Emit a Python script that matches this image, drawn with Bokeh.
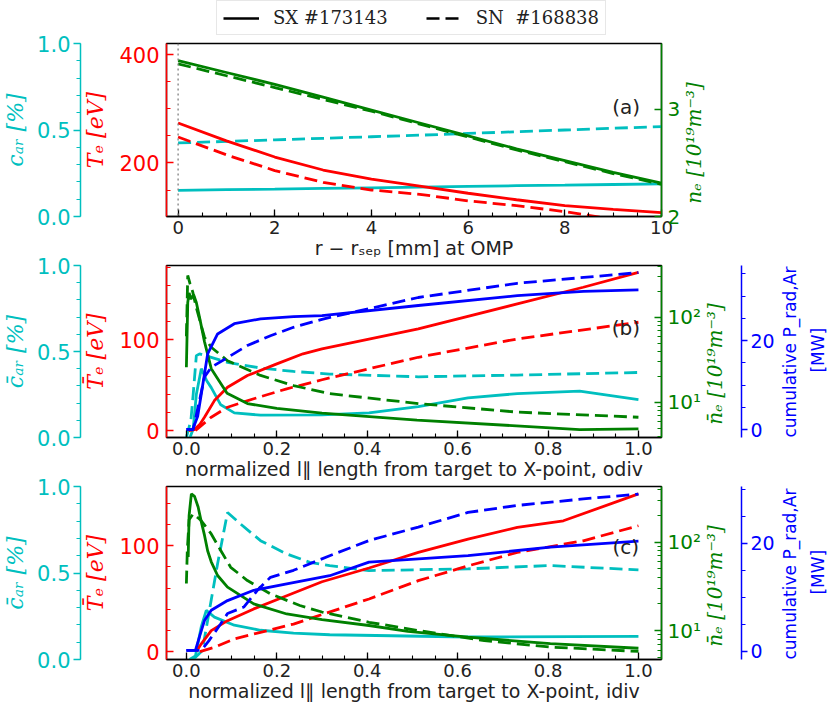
import math
from bokeh.plotting import figure
from bokeh.models import (Range1d, LinearAxis, LogAxis, LogScale, FixedTicker,
                          Legend, LegendItem, Label, Span, NumeralTickFormatter)
from bokeh.layouts import column
from bokeh.embed import file_html
from bokeh.resources import INLINE

CYAN = "#00bfbf"; RED = "#ff0000"; GREEN = "#008000"; BLUE = "#0000ff"
LW = 2.8
DASH = "13 6"
YTICK = "21px"; YLAB = "22px"; XTICK = "18px"; XLAB = "19px"
NAN = float("nan")
W = 840
FS = "\u2007"   # figure space, used to pad the start of a vertical label

# ---------------- data: panel (a), outer midplane ----------------
a_r = [0, 1, 2, 3, 4, 5, 6, 7, 8, 9, 10]
a_te_sx = [274, 241, 211, 187, 170, 157, 144, 132, 121, 114, 108]
a_te_sn = [248, 215, 186, 164, 150, 142, 130, 121, 110, 96, 88]
a_ne_sx = [3.45, 3.34, 3.23, 3.11, 2.99, 2.87, 2.75, 2.63, 2.52, 2.41, 2.31]
a_ne_sn = [3.42, 3.31, 3.20, 3.09, 2.98, 2.86, 2.74, 2.62, 2.51, 2.40, 2.30]
a_car_sx = [0.151, 0.155, 0.158, 0.162, 0.166, 0.170, 0.174, 0.178, 0.181, 0.185, 0.189]
a_car_sn = [0.425, 0.434, 0.443, 0.452, 0.461, 0.470, 0.480, 0.490, 0.500, 0.510, 0.520]

# ---------------- data: panel (b), outer divertor ----------------
b_ne_sx_x = [0.0, 0.003, 0.006, 0.010, 0.016, 0.022, 0.03, 0.04, 0.055, 0.09, 0.135, 0.2, 0.3, 0.51, 0.73, 0.87, 1.0]
b_ne_sx = [26, 150, 195, 165, 185, 150, 95, 52, 25, 12.8, 9.7, 8.5, 7.5, 6.2, 5.3, 4.8, 4.9]
b_ne_sn_x = [0.0, 0.003, 0.008, 0.014, 0.022, 0.04, 0.055, 0.091, 0.164, 0.237, 0.317, 0.513, 0.732, 1.0]
b_ne_sn = [60, 312, 250, 200, 130, 58.6, 44.6, 31, 20.8, 15.8, 12.7, 9.7, 7.7, 6.7]
b_pr_sx_x = [0.0, 0.014, 0.025, 0.033, 0.047, 0.069, 0.106, 0.164, 0.237, 0.3, 0.513, 0.732, 0.878, 1.0]
b_pr_sx = [0, 0, 3, 8, 17, 21.5, 23.8, 24.9, 25.4, 25.6, 27.9, 30.1, 31.1, 31.4]
b_pr_sn_x = [0.0, 0.015, 0.029, 0.04, 0.055, 0.091, 0.135, 0.186, 0.237, 0.3, 0.513, 0.732, 1.0]
b_pr_sn = [0, 0, 6.5, 11.8, 14.0, 16.2, 18.9, 21.1, 23.0, 24.8, 29.7, 32.9, 35.3]
b_te_sx_x = [0.005, 0.018, 0.03, 0.04, 0.062, 0.091, 0.135, 0.2, 0.258, 0.3, 0.513, 0.732, 0.878, 1.0]
b_te_sx = [0, 1, 7, 14.7, 33, 47.7, 60.6, 73.5, 84.6, 90, 112, 139.7, 158, 174.5]
b_te_sn_x = [0.02, 0.025, 0.055, 0.091, 0.149, 0.222, 0.3, 0.513, 0.732, 1.0]
b_te_sn = [0, 2, 14.7, 25.7, 35, 46, 56, 80.8, 101, 119.4]
b_car_sx_x = [0.008, 0.015, 0.022, 0.033, 0.045, 0.055, 0.076, 0.106, 0.164, 0.3, 0.404, 0.513, 0.623, 0.732, 0.87, 1.0]
b_car_sx = [0, 0.05, 0.25, 0.40, 0.33, 0.29, 0.19, 0.143, 0.13, 0.132, 0.143, 0.18, 0.23, 0.255, 0.27, 0.22]
b_car_sn_x = [0.0, 0.01, 0.015, 0.022, 0.029, 0.055, 0.091, 0.164, 0.237, 0.317, 0.513, 0.732, 1.0]
b_car_sn = [0, 0.1, 0.25, 0.476, 0.486, 0.466, 0.437, 0.404, 0.384, 0.369, 0.353, 0.363, 0.378]

# ---------------- data: panel (c), inner divertor ----------------
c_ne_sx_x = [0.004, 0.006, 0.011, 0.018, 0.026, 0.033, 0.04, 0.047, 0.055, 0.069, 0.091, 0.149, 0.222, 0.3, 0.404, 0.49, 0.623, 0.805, 1.0]
c_ne_sx = [68, 200, 353, 330, 250, 170, 120, 80, 60, 42, 31, 20, 15.4, 13.3, 11.4, 9.8, 8.4, 7.1, 6.3]
c_ne_sn_x = [0.0, 0.002, 0.006, 0.015, 0.025, 0.033, 0.055, 0.076, 0.098, 0.135, 0.186, 0.251, 0.3, 0.404, 0.513, 0.659, 0.805, 1.0]
c_ne_sn = [34, 80, 180, 209, 190, 175, 124, 80.6, 52, 36.8, 26, 19.2, 16.2, 12.4, 10, 7.7, 6.5, 5.8]
c_pr_sx_x = [0.0, 0.02, 0.03, 0.04, 0.055, 0.091, 0.149, 0.222, 0.317, 0.404, 0.623, 0.805, 1.0]
c_pr_sx = [0.2, 0.2, 3, 5.7, 7.6, 9.4, 11.3, 12.5, 14.0, 16.5, 17.7, 19.3, 20.4]
c_pr_sn_x = [0.0, 0.033, 0.05, 0.076, 0.091, 0.127, 0.157, 0.186, 0.237, 0.317, 0.404, 0.513, 0.623, 0.732, 0.878, 1.0]
c_pr_sn = [0.2, 0.2, 2, 5.1, 7, 8.2, 11.3, 13.7, 15.0, 17.7, 20.5, 23, 25.7, 27, 28.2, 29.1]
c_te_sx_x = [0.022, 0.033, 0.055, 0.091, 0.149, 0.222, 0.3, 0.404, 0.513, 0.623, 0.732, 0.834, 1.0]
c_te_sx = [0, 7.3, 19.8, 29.2, 40.3, 52.8, 66, 79, 93.7, 106.3, 117.3, 123.6, 149]
c_te_sn_x = [0.03, 0.062, 0.106, 0.164, 0.237, 0.3, 0.404, 0.513, 0.623, 0.732, 0.878, 1.0]
c_te_sn = [0, 4, 12, 18.2, 26, 35, 49.7, 67, 81, 93.7, 104.7, 118.9]
c_car_sx_x = [0.007, 0.02, 0.033, 0.044, 0.062, 0.106, 0.164, 0.237, 0.317, 0.623, 1.0]
c_car_sx = [0, 0.02, 0.19, 0.284, 0.245, 0.198, 0.169, 0.153, 0.143, 0.13, 0.134]
c_car_sn_x = [0.015, 0.035, 0.047, 0.069, 0.091, 0.12, 0.164, 0.222, 0.273, 0.317, 0.404, 0.623, 0.805, 1.0]
c_car_sn = [0, 0.05, 0.226, 0.553, 0.85, 0.783, 0.687, 0.61, 0.562, 0.543, 0.514, 0.524, 0.543, 0.518]

# ---------------- tick labels / texts ----------------
x_ticks_a = [0, 2, 4, 6, 8, 10]
x_ticks_bc = [0.0, 0.2, 0.4, 0.6, 0.8, 1.0]
cyan_ticks = [0.0, 0.5, 1.0]
log_ticks = [10, 100]
log_labels = {10: "10¹", 100: "10²"}
legend_labels = ["SX #173143", "SN\u00a0 #168838"]
blue_label_1 = "cumulative P_rad,Ar"
blue_label_2 = FS * 6 + "[MW]"


def style_axis(ax, color, inward, tick_font=YTICK, label_font=YLAB,
               label_style="italic", label_family="DejaVu Serif", tick_len=7):
    ax.axis_line_color = color
    ax.axis_line_width = 1.5
    ax.major_tick_line_color = color
    ax.minor_tick_line_color = color
    ax.major_tick_line_width = 1.3
    ax.minor_tick_line_width = 1.1
    if inward:
        ax.major_tick_in, ax.major_tick_out = tick_len, 0
        ax.minor_tick_in, ax.minor_tick_out = 4, 0
    else:
        ax.major_tick_in, ax.major_tick_out = 0, tick_len
        ax.minor_tick_in, ax.minor_tick_out = 0, 4
    ax.major_label_text_color = color
    ax.major_label_text_font = "DejaVu Sans"
    ax.major_label_text_font_size = tick_font
    ax.axis_label_text_color = color
    ax.axis_label_text_font = label_family
    ax.axis_label_text_font_style = label_style
    ax.axis_label_text_font_size = label_font


def flip(ax):
    # read bottom-to-top like the reference, starting from the bottom of the frame
    ax.axis_label_orientation = math.pi / 2
    ax.axis_label_align = "start"


def base_fig(height, top, bottom, xr, redr, shift):
    p = figure(width=W, height=height, x_range=Range1d(*xr), y_range=Range1d(*redr),
               output_backend="svg", toolbar_location=None,
               min_border_left=165, min_border_right=174,
               min_border_top=top, min_border_bottom=bottom)
    p.xgrid.visible = False
    p.ygrid.visible = False
    p.outline_line_color = "black"
    p.outline_line_width = 1.5
    p.border_fill_color = None
    p.margin = (shift, 0, 0, 0)
    return p


def setup_axes(p, xticks, xminor, xfmt, xlabel, redticks, redminor, redlabel,
               cyanlabel, green_log, greenticks, greenminor, greenlabel,
               blueticks=None, blueminor=None):
    xa = p.xaxis[0]
    style_axis(xa, "black", True, tick_font=XTICK, label_font=XLAB,
               label_style="normal", label_family="DejaVu Sans")
    xa.ticker = FixedTicker(ticks=xticks, minor_ticks=xminor)
    if xfmt:
        xa.formatter = NumeralTickFormatter(format=xfmt)
    xa.major_label_text_color = "#222222"
    xa.axis_label_text_color = "#222222"
    xa.axis_label = xlabel
    xa.major_label_standoff = 4
    xa.axis_label_standoff = 0

    ra = p.yaxis[0]
    style_axis(ra, RED, True)
    ra.ticker = FixedTicker(ticks=redticks, minor_ticks=redminor)
    ra.axis_label = redlabel
    ra.major_label_standoff = 7
    ra.axis_label_standoff = 8

    ca = LinearAxis(y_range_name="cyan", axis_label=cyanlabel,
                    ticker=FixedTicker(ticks=cyan_ticks, minor_ticks=[i / 10 for i in range(11)]),
                    formatter=NumeralTickFormatter(format="0.0"))
    style_axis(ca, CYAN, False)
    ca.major_label_standoff = 3
    ca.axis_label_standoff = 6
    p.add_layout(ca, "left")

    if green_log:
        ga = LogAxis(y_range_name="green", ticker=FixedTicker(ticks=greenticks, minor_ticks=greenminor))
        ga.major_label_overrides = log_labels
    else:
        ga = LinearAxis(y_range_name="green", ticker=FixedTicker(ticks=greenticks, minor_ticks=greenminor))
    style_axis(ga, GREEN, True, tick_font="20px", label_font="20px")
    ga.axis_label = greenlabel
    ga.major_label_standoff = 6
    ga.axis_label_standoff = 11
    flip(ga)
    p.add_layout(ga, "right")

    if blueticks is not None:
        ba = LinearAxis(y_range_name="blue", axis_label=blue_label_1,
                        ticker=FixedTicker(ticks=blueticks, minor_ticks=blueminor))
        style_axis(ba, BLUE, False, tick_font="19px", label_font="17px",
                   label_style="normal", label_family="DejaVu Sans", tick_len=6)
        ba.major_label_standoff = 3
        ba.axis_label_standoff = 12
        flip(ba)
        p.add_layout(ba, "right")
        # second line of the blue label ("[MW]") carried by a bare axis
        da = LinearAxis(y_range_name="blue", axis_label=blue_label_2,
                        ticker=FixedTicker(ticks=[], minor_ticks=[]))
        style_axis(da, BLUE, False, tick_font="19px", label_font="17px",
                   label_style="normal", label_family="DejaVu Sans")
        da.axis_line_color = None
        da.major_tick_out = 0
        da.minor_tick_out = 0
        da.major_label_standoff = 0
        da.axis_label_standoff = 5
        flip(da)
        p.add_layout(da, "right")


def panel_label(p, x, y, text):
    p.add_layout(Label(x=x, y=y, text=text, text_align="center", text_baseline="middle",
                       text_font="DejaVu Sans", text_font_size="20px", text_color="#222222"))


# ---------------- legend strip ----------------
pl = figure(width=W, height=43, x_range=Range1d(0, 1), y_range=Range1d(0, 1),
            x_axis_type=None, y_axis_type=None, output_backend="svg",
            toolbar_location=None, min_border=0)
pl.xgrid.visible = False
pl.ygrid.visible = False
pl.outline_line_color = None
pl.border_fill_color = None
pl.background_fill_color = None
r_sx = pl.line(x=[NAN], y=[NAN], line_color="black", line_width=2.5)
r_sn = pl.line(x=[NAN], y=[NAN], line_color="black", line_width=2.5, line_dash=DASH)
leg = Legend(items=[LegendItem(label=legend_labels[0], renderers=[r_sx]),
                    LegendItem(label=legend_labels[1], renderers=[r_sn])],
             orientation="horizontal", location=(50, 8),
             label_text_font="DejaVu Serif", label_text_font_size="18px",
             label_text_color="#222222",
             glyph_width=36, glyph_height=20, label_standoff=14, spacing=38,
             padding=6, margin=0, border_line_color="#d0d0d0", border_line_width=1.5)
pl.add_layout(leg, "center")

# ---------------- panel (a) ----------------
XA = (-0.24, 10); RA = (101, 421)
pa = base_fig(234, 14, 47, XA, RA, -14)
pa.extra_y_ranges = {"cyan": Range1d(0, 1), "green": Range1d(2, 3.61)}
setup_axes(pa, x_ticks_a, [i * 0.5 for i in range(21)], None, "r − rₛₑₚ [mm] at OMP",
           [200, 400], [100 + 50 * i for i in range(7)], "Tₑ [eV]",
           "cₐᵣ [%]", False, [2, 3], [2, 3], FS + "nₑ [10¹⁹m⁻³]")
pa.add_layout(Span(location=0, dimension="height", line_color="gray",
                   line_dash="2 3", line_width=1.3))
pa.line(a_r, a_car_sx, color=CYAN, line_width=LW, y_range_name="cyan")
pa.line(a_r, a_car_sn, color=CYAN, line_width=LW, line_dash=DASH, y_range_name="cyan")
pa.line(a_r, a_te_sx, color=RED, line_width=LW)
pa.line(a_r, a_te_sn, color=RED, line_width=LW, line_dash=DASH)
pa.line(a_r, a_ne_sx, color=GREEN, line_width=LW, y_range_name="green")
pa.line(a_r, a_ne_sn, color=GREEN, line_width=LW, line_dash=DASH, y_range_name="green")
panel_label(pa, 9.27, 304, "(a)")

minor_x_bc = [i * 0.05 for i in range(21)]
log_minor = [4, 5, 6, 7, 8, 9, 20, 30, 40, 50, 60, 70, 80, 90, 200, 300, 400]

# ---------------- panel (b) ----------------
XB = (-0.044, 1.051); RB = (-7.7, 182)
pb = base_fig(233, 14, 47, XB, RB, -12)
pb.extra_y_ranges = {"cyan": Range1d(0, 1), "green": Range1d(3.87, 409), "blue": Range1d(-1.8, 36.9)}
pb.extra_y_scales = {"green": LogScale()}
setup_axes(pb, x_ticks_bc, minor_x_bc, "0.0",
           "normalized l∥ length from target to X-point, odiv",
           [0, 100], [20 * i for i in range(10)], "T̄ₑ [eV]",
           "c̄ₐᵣ [%]", True, log_ticks, log_minor, FS + "n̄ₑ [10¹⁹m⁻³]",
           [0, 20], [5 * i for i in range(8)])
pb.line(b_car_sx_x, b_car_sx, color=CYAN, line_width=LW, y_range_name="cyan")
pb.line(b_car_sn_x, b_car_sn, color=CYAN, line_width=LW, line_dash=DASH, y_range_name="cyan")
pb.line(b_te_sx_x, b_te_sx, color=RED, line_width=LW)
pb.line(b_te_sn_x, b_te_sn, color=RED, line_width=LW, line_dash=DASH)
pb.line(b_ne_sx_x, b_ne_sx, color=GREEN, line_width=LW, y_range_name="green")
pb.line(b_ne_sn_x, b_ne_sn, color=GREEN, line_width=LW, line_dash=DASH, y_range_name="green")
pb.line(b_pr_sx_x, b_pr_sx, color=BLUE, line_width=LW, y_range_name="blue")
pb.line(b_pr_sn_x, b_pr_sn, color=BLUE, line_width=LW, line_dash=DASH, y_range_name="blue")
panel_label(pb, 0.972, 113, "(b)")

# ---------------- panel (c) ----------------
XC = (-0.044, 1.051); RC = (-7.5, 156)
pc = base_fig(234, 14, 47, XC, RC, -12)
pc.extra_y_ranges = {"cyan": Range1d(0, 1), "green": Range1d(4.7, 427), "blue": Range1d(-1.5, 30.5)}
pc.extra_y_scales = {"green": LogScale()}
setup_axes(pc, x_ticks_bc, minor_x_bc, "0.0",
           "normalized l∥ length from target to X-point, idiv",
           [0, 100], [20 * i for i in range(8)], "T̄ₑ [eV]",
           "c̄ₐᵣ [%]", True, log_ticks, log_minor, FS + "n̄ₑ [10¹⁹m⁻³]",
           [0, 20], [5 * i for i in range(7)])
pc.line(c_car_sx_x, c_car_sx, color=CYAN, line_width=LW, y_range_name="cyan")
pc.line(c_car_sn_x, c_car_sn, color=CYAN, line_width=LW, line_dash=DASH, y_range_name="cyan")
pc.line(c_te_sx_x, c_te_sx, color=RED, line_width=LW)
pc.line(c_te_sn_x, c_te_sn, color=RED, line_width=LW, line_dash=DASH)
pc.line(c_ne_sx_x, c_ne_sx, color=GREEN, line_width=LW, y_range_name="green")
pc.line(c_ne_sn_x, c_ne_sn, color=GREEN, line_width=LW, line_dash=DASH, y_range_name="green")
pc.line(c_pr_sx_x, c_pr_sx, color=BLUE, line_width=LW, y_range_name="blue")
pc.line(c_pr_sn_x, c_pr_sn, color=BLUE, line_width=LW, line_dash=DASH, y_range_name="blue")
panel_label(pc, 0.972, 99, "(c)")

layout = column(pl, pa, pb, pc, spacing=0)
open("out.html", "w").write(file_html(layout, INLINE))
